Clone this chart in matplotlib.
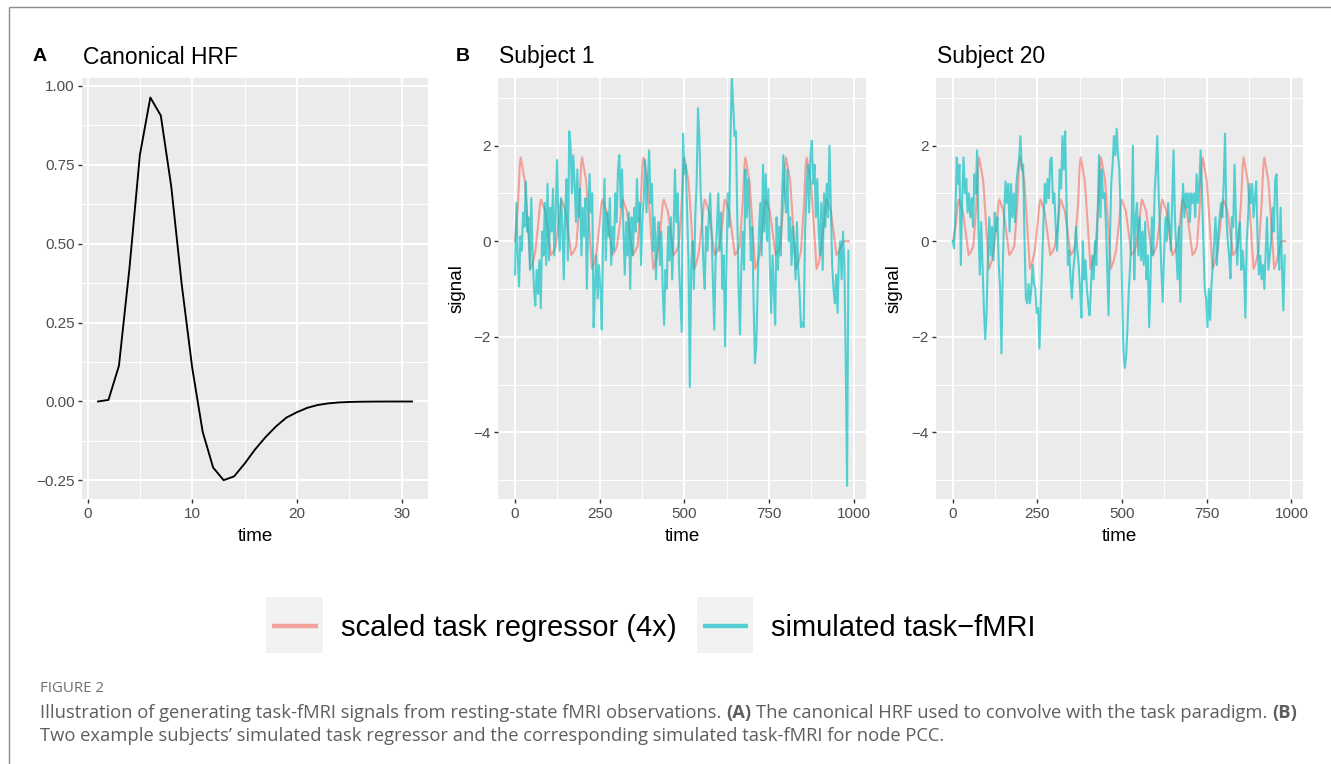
import numpy as np
import matplotlib
matplotlib.use("Agg")
import matplotlib.pyplot as plt
from matplotlib.patches import Rectangle
from matplotlib.ticker import FixedLocator, FuncFormatter
from matplotlib import font_manager as fm

# ------------------------------------------------------------------ data
hrf_time = list(range(1, 32))
hrf_value = [0.0, 0.005, 0.113, 0.42, 0.78, 0.962, 0.905, 0.68, 0.37, 0.107,
             -0.096, -0.209, -0.249, -0.237, -0.197, -0.152, -0.113, -0.079, -0.051, -0.034,
             -0.020, -0.011, -0.006, -0.003, -0.0015, -0.0007, -0.0003, -0.0001, 0.0, 0.0, 0.0]

fmri_step = 4  # simulated task-fMRI read every 4 time units, starting at time 0
s1_fmri = [
    -0.7, 0.8, -0.3, -0.95, 0.1, -0.2, 0.6, 0.3, 1.25, 0.2,
    0.5, -0.6, 0.9, -0.3, -1.0, -1.35, -0.6, -1.1, -0.4, -1.4,
    0.2, -0.3, 0.8, -0.5, 1.2, -0.4, 0.7, 0.2, 1.1, -0.3,
    0.6, 1.7, 0.4, -0.2, 0.9, 0.3, -0.8, 0.6, 1.3, -0.4,
    2.3, 2.0, 1.0, 1.8, 1.2, 0.4, 1.5, 0.5, 1.1, -0.3,
    0.7, 0.1, 0.9, -1.0, 0.3, 1.4, 0.6, 1.0, -1.8, -1.0,
    -0.3, -1.2, -0.5, -1.0, -1.85, 0.2, 1.3, -0.4, 0.6, 0.1,
    0.9, -0.5, 0.3, -0.2, 1.0, 0.4, 1.5, 1.8, 0.7, 1.5,
    0.2, -0.7, 0.4, -0.3, 0.6, -1.0, 0.5, -0.3, 0.7, 0.2,
    1.3, 0.4, 0.8, -0.5, 0.5, 0.9, 1.7, 0.6, 1.3, 1.9,
    0.8, 1.2, -0.2, 0.5, -0.8, 0.1, 0.4, -0.5, 0.2, -1.0,
    -1.75, -0.6, -1.0, 0.3, -0.4, 0.5, -0.8, 0.2, 1.5, 0.4,
    1.0, -0.5, -1.2, -1.9, 2.25, 1.4, 1.6, 0.6, -0.4, -3.05,
    -0.5, 0.0, -1.0, 0.5, 1.2, 2.78, 2.2, 1.0, 0.5, -0.5,
    -1.0, 0.3, -0.2, 0.5, 1.0, 0.2, -0.8, -1.85, -0.4, 0.3,
    1.0, -0.2, 0.6, -1.0, -0.3, -2.2, -0.6, 1.0, 0.3, 2.2,
    3.45, 2.8, 2.2, 2.3, 0.5, -1.0, -1.95, -0.5, 0.2, -0.6,
    1.5, 0.5, 1.3, 0.6, -0.4, 0.3, -1.2, -2.55, -2.2, -1.0,
    0.2, 0.8, -0.3, 1.6, 0.2, 1.4, 0.0, 1.1, -0.5, -1.5,
    -0.3, -1.0, -1.75, 0.5, -0.6, 0.3, -0.3, 0.9, 1.8, 1.0,
    0.6, 1.5, 0.0, 0.5, -0.5, 0.3, -0.1, -0.8, 0.4, -0.6,
    -1.1, -1.8, -1.7, -1.8, 0.2, 1.0, 1.6, 0.6, 1.8, 2.1,
    1.2, 1.6, 0.5, 1.3, 0.3, -0.3, 0.8, -0.6, 1.0, 0.3,
    1.2, 0.5, 2.0, 0.8, -0.5, -1.0, -1.3, -0.7, -1.5, -0.3,
    0.0, -0.8, 0.2, -0.5, -2.5, -5.12, -0.2]
s20_fmri = [
    0.0, -0.15, 0.6, 1.75, 1.2, 1.6, -0.5, 0.9, 1.75, 1.0,
    1.3, 0.6, 1.0, 0.5, 0.9, 0.3, 1.4, 1.0, 1.9, 0.3,
    -0.7, 0.4, -0.5, -1.4, -2.05, -1.5, -0.3, 0.5, -0.3, 0.3,
    -0.4, 0.6, 0.2, 0.5, -0.5, -1.0, -2.35, -0.5, 0.6, 1.25,
    0.8, 1.2, 0.2, 1.2, 0.5, 1.0, 0.4, 1.2, 1.5, 1.7,
    2.2, 1.5, 1.6, 0.0, -1.2, -1.3, -0.9, -1.3, -1.0, -0.5,
    -0.9, -1.0, -1.5, -1.4, -2.25, -1.3, -0.5, 0.4, 1.2, 0.8,
    1.3, 0.9, 1.7, 1.75, 0.8, 1.0, 0.3, -0.2, 0.5, 1.5,
    1.1, 2.2, 1.5, 2.3, 0.8, -0.5, -0.2, -0.8, -1.2, -0.6,
    -0.3, 0.3, -0.2, -0.5, -1.0, -1.6, 0.0, -0.8, -0.4, -1.0,
    -1.3, -1.55, -1.0, -0.3, -0.8, 0.0, -0.5, 0.6, 1.8, 0.5,
    1.5, 0.9, 1.0, 0.4, -0.5, -1.55, 0.0, 1.2, 1.6, 2.2,
    1.8, 2.35, 1.8, 1.5, 0.5, -1.0, -2.3, -2.65, -2.4, -1.8,
    -1.0, -0.5, 0.3, 2.0, -0.8, 0.5, 0.8, -0.3, 0.5, -0.4,
    0.2, -0.5, 0.4, -0.8, -0.3, -1.8, -0.8, 0.5, -0.3, 1.0,
    1.5, 2.2, 1.0, 0.2, -0.6, -1.27, -0.3, 0.5, 0.0, 0.8,
    0.3, -0.2, 0.8, 1.9, 0.5, -0.2, -0.8, 0.3, -1.27, 0.5,
    1.2, 0.5, 1.0, 0.7, 1.0, 0.4, 1.0, 0.8, 1.0, 0.5,
    1.4, 0.8, 1.2, 1.9, 1.0, 0.0, -1.0, -1.2, -1.8, -1.0,
    -1.65, -0.9, -0.5, 0.0, 0.5, -0.5, 0.2, 0.5, 0.8, 0.5,
    1.2, 2.25, 0.5, 0.0, -0.3, -0.78, 0.5, 0.3, 1.6, 0.5,
    -0.5, 0.2, 0.4, -0.6, -0.2, -0.6, -1.6, 0.0, 0.5, 1.2,
    0.8, 1.2, 0.5, 0.9, 1.25, 0.0, -0.7, -0.3, -0.8, -0.5,
    -1.0, -0.2, 0.5, -0.6, -0.3, 0.0, 0.7, 0.2, 1.3, 1.4,
    0.0, -0.6, 0.7, -0.5, -1.45, -0.3]

# scaled task regressor (4x): points
s1_task_time = [
    0, 9, 14, 17, 29, 36, 46, 53,
    60, 69, 74, 77, 89, 96, 106, 113,
    120, 129, 134, 137, 149, 156, 166, 173,
    181, 190, 195, 198, 210, 217, 227, 234,
    241, 250, 255, 258, 270, 277, 287, 294,
    301, 310, 315, 318, 330, 337, 347, 354,
    362, 371, 376, 379, 391, 398, 408, 415,
    422, 431, 436, 439, 451, 458, 468, 475,
    483, 492, 497, 500, 512, 519, 529, 536,
    543, 552, 557, 560, 572, 579, 589, 596,
    603, 612, 617, 620, 632, 639, 649, 656,
    663, 672, 677, 680, 692, 699, 709, 716,
    723, 732, 737, 740, 752, 759, 769, 776,
    783, 792, 797, 800, 812, 819, 829, 836,
    844, 853, 858, 861, 873, 880, 890, 897,
    903, 912, 917, 920, 932, 939, 949, 956,
    968, 985]
s1_task_value = [
    0.0, 0.79, 1.58, 1.75, 1.26, 0.53, -0.58, -0.44,
    -0.21, 0.39, 0.78, 0.87, 0.63, 0.26, -0.29, -0.22,
    -0.10, 0.39, 0.78, 0.87, 0.63, 0.26, -0.29, -0.22,
    -0.10, 0.79, 1.58, 1.75, 1.26, 0.53, -0.58, -0.44,
    -0.21, 0.39, 0.78, 0.87, 0.63, 0.26, -0.29, -0.22,
    -0.10, 0.39, 0.78, 0.87, 0.63, 0.26, -0.29, -0.22,
    -0.10, 0.79, 1.58, 1.75, 1.26, 0.53, -0.58, -0.44,
    -0.21, 0.39, 0.78, 0.87, 0.63, 0.26, -0.29, -0.22,
    -0.10, 0.79, 1.58, 1.75, 1.26, 0.53, -0.58, -0.44,
    -0.21, 0.39, 0.78, 0.87, 0.63, 0.26, -0.29, -0.22,
    -0.10, 0.39, 0.78, 0.87, 0.63, 0.26, -0.29, -0.22,
    -0.10, 0.79, 1.58, 1.75, 1.26, 0.53, -0.58, -0.44,
    -0.21, 0.39, 0.78, 0.87, 0.63, 0.26, -0.29, -0.22,
    -0.10, 0.79, 1.58, 1.75, 1.26, 0.53, -0.58, -0.44,
    -0.21, 0.79, 1.58, 1.75, 1.26, 0.53, -0.58, -0.44,
    -0.21, 0.39, 0.78, 0.87, 0.63, 0.26, -0.29, -0.22,
    0.0, 0.0]
s20_task_time = [
    1, 10, 15, 18, 30, 37, 47, 54,
    61, 70, 75, 78, 90, 97, 107, 114,
    121, 130, 135, 138, 150, 157, 167, 174,
    182, 191, 196, 199, 211, 218, 228, 235,
    242, 251, 256, 259, 271, 278, 288, 295,
    302, 311, 316, 319, 331, 338, 348, 355,
    361, 370, 375, 378, 390, 397, 407, 414,
    421, 430, 435, 438, 450, 457, 467, 474,
    482, 491, 496, 499, 511, 518, 528, 535,
    542, 551, 556, 559, 571, 578, 588, 595,
    602, 611, 616, 619, 631, 638, 648, 655,
    662, 671, 676, 679, 691, 698, 708, 715,
    721, 730, 735, 738, 750, 757, 767, 774,
    782, 791, 796, 799, 811, 818, 828, 835,
    842, 851, 856, 859, 871, 878, 888, 895,
    903, 912, 917, 920, 932, 939, 949, 956,
    970, 982]
s20_task_value = [
    0.0, 0.39, 0.78, 0.87, 0.63, 0.26, -0.29, -0.22,
    -0.10, 0.79, 1.58, 1.75, 1.26, 0.53, -0.58, -0.44,
    -0.21, 0.39, 0.78, 0.87, 0.63, 0.26, -0.29, -0.22,
    -0.10, 0.79, 1.58, 1.75, 1.26, 0.53, -0.58, -0.44,
    -0.21, 0.39, 0.78, 0.87, 0.63, 0.26, -0.29, -0.22,
    -0.10, 0.39, 0.78, 0.87, 0.63, 0.26, -0.29, -0.22,
    -0.10, 0.79, 1.58, 1.75, 1.26, 0.53, -0.58, -0.44,
    -0.21, 0.79, 1.58, 1.75, 1.26, 0.53, -0.58, -0.44,
    -0.21, 0.39, 0.78, 0.87, 0.63, 0.26, -0.29, -0.22,
    -0.10, 0.39, 0.78, 0.87, 0.63, 0.26, -0.29, -0.22,
    -0.10, 0.39, 0.78, 0.87, 0.63, 0.26, -0.29, -0.22,
    -0.10, 0.39, 0.78, 0.87, 0.63, 0.26, -0.29, -0.22,
    -0.10, 0.79, 1.58, 1.75, 1.26, 0.53, -0.58, -0.44,
    -0.21, 0.39, 0.78, 0.87, 0.63, 0.26, -0.29, -0.22,
    -0.10, 0.79, 1.58, 1.75, 1.26, 0.53, -0.58, -0.44,
    -0.21, 0.79, 1.58, 1.75, 1.26, 0.53, -0.58, -0.44,
    0.0, 0.0]

panel_titles = ["Canonical HRF", "Subject 1", "Subject 20"]
panel_tags = ["A", "B"]
legend_labels = ["scaled task regressor (4x)", "simulated task\u2212fMRI"]
hrf_xticks = [0, 10, 20, 30]
hrf_yticks = [-0.25, 0.0, 0.25, 0.50, 0.75, 1.00]
sig_xticks = [0, 250, 500, 750, 1000]
sig_yticks = [-4, -2, 0, 2]
caption_head = "FIGURE 2"
caption_line1 = [("Illustration of generating task-fMRI signals from resting-state fMRI observations.", "normal"),
                 ("(A)", "bold"),
                 ("The canonical HRF used to convolve with the task paradigm.", "normal"),
                 ("(B)", "bold")]
caption_line2 = [("Two example subjects\u2019 simulated task regressor and the corresponding simulated task-fMRI for node PCC.", "normal")]

# ------------------------------------------------------------------ style
plt.rcParams["font.family"] = ["Liberation Sans", "DejaVu Sans"]
W, H = 1331, 764
fig = plt.figure(figsize=(W / 100, H / 100), dpi=100)
fig.patch.set_facecolor("white")

RED = "#F8766D"
CYAN = "#00BFC4"
ALPHA = 0.65
PANEL_BG = "#EBEBEB"


def px_rect(l, t, r, b):
    return [l / W, 1 - b / H, (r - l) / W, (b - t) / H]


def minus(s):
    return s.replace("-", "\u2212")


def style_axes(ax, xmaj, xmin, ymaj, ymin, yfmt):
    ax.set_facecolor(PANEL_BG)
    for sp in ax.spines.values():
        sp.set_visible(False)
    ax.xaxis.set_major_locator(FixedLocator(xmaj))
    ax.xaxis.set_minor_locator(FixedLocator(xmin))
    ax.yaxis.set_major_locator(FixedLocator(ymaj))
    ax.yaxis.set_minor_locator(FixedLocator(ymin))
    ax.xaxis.set_major_formatter(FuncFormatter(lambda v, p: minus("%d" % round(v))))
    ax.yaxis.set_major_formatter(FuncFormatter(yfmt))
    ax.grid(which="major", color="white", lw=1.4, zorder=0)
    ax.grid(which="minor", color="white", lw=0.7, zorder=0)
    ax.set_axisbelow(True)
    ax.tick_params(which="major", length=3.2, width=1.0, color="#333333",
                   labelcolor="#4D4D4D", labelsize=11, pad=2.2)
    ax.tick_params(which="minor", length=0)


# overlay for free text / legend / frame
ov = fig.add_axes([0, 0, 1, 1], zorder=-1)
ov.set_xlim(0, W)
ov.set_ylim(H, 0)
ov.axis("off")
ov.patch.set_alpha(0)

# frame lines
ov.plot([9, 9], [7, H], color="#8C8C8C", lw=1.0, solid_capstyle="butt")
ov.plot([9, W], [7, 7], color="#8C8C8C", lw=1.0, solid_capstyle="butt")

# ---- panel A
axA = fig.add_axes(px_rect(82.3, 77.7, 427.7, 499.3))
style_axes(axA, hrf_xticks, [5, 15, 25], hrf_yticks,
           [-0.125, 0.125, 0.375, 0.625, 0.875],
           lambda v, p: minus("%.2f" % v))
axA.plot(hrf_time, hrf_value, color="black", lw=1.35, zorder=3)
axA.set_xlim(-0.5, 32.5)
axA.set_ylim(-0.3095, 1.0247)

# ---- panels B
sig_lims_x = (-49.3, 1035.0)
sig_lims_y = (-5.40, 3.42)
axes_sig = []
for (l, r), fmri, tt, tv in [((498.3, 865.7), s1_fmri, s1_task_time, s1_task_value),
                             ((936.0, 1303.3), s20_fmri, s20_task_time, s20_task_value)]:
    ax = fig.add_axes(px_rect(l, 77.7, r, 499.3))
    style_axes(ax, sig_xticks, [125, 375, 625, 875], sig_yticks, [-5, -3, -1, 1, 3],
               lambda v, p: minus("%d" % round(v)))
    t = np.arange(len(fmri)) * fmri_step
    ax.plot(tt, tv, color=RED, alpha=ALPHA, lw=1.5, zorder=3)
    ax.plot(t, fmri, color=CYAN, alpha=ALPHA, lw=1.5, zorder=4)
    ax.set_xlim(*sig_lims_x)
    ax.set_ylim(*sig_lims_y)
    axes_sig.append(ax)

# ---- titles, tags, axis titles
ov.text(33, 61, panel_tags[0], fontsize=14, fontweight="bold", ha="left", va="baseline")
ov.text(456, 61, panel_tags[1], fontsize=14, fontweight="bold", ha="left", va="baseline")
ov.text(83.3, 63.5, panel_titles[0], fontsize=16.5, ha="left", va="baseline")
ov.text(499.3, 63.5, panel_titles[1], fontsize=16.5, ha="left", va="baseline")
ov.text(937.3, 63.5, panel_titles[2], fontsize=16.5, ha="left", va="baseline")
for cx in (255.0, 682.0, 1119.6):
    ov.text(cx, 536.5, "time", fontsize=13.5, ha="center", va="center")
for cx in (457.0, 894.5):
    ov.text(cx, 288.5, "signal", fontsize=13.5, ha="center", va="center", rotation=90)

# ---- legend
key_boxes = [(266, 323), (697, 753)]
for (kl, kr), col, lab in zip(key_boxes, [RED, CYAN], legend_labels):
    ov.add_patch(Rectangle((kl, 597), kr - kl, 56, facecolor="#F2F2F2", edgecolor="none"))
    ov.plot([kl + 6, kr - 5], [626, 626], color=col, alpha=ALPHA, lw=3.2, solid_capstyle="butt")
    ov.text(kr + 18, 636, lab, fontsize=21, ha="left", va="baseline", color="black")

# ---- caption
names = {f.name for f in fm.fontManager.ttflist}
cap_family = "Liberation Sans Narrow" if "Liberation Sans Narrow" in names else "Open Sans"
renderer = fig.canvas.get_renderer()


def text_w(s, size, weight):
    t = ov.text(0, 0, s, fontsize=size, fontweight=weight, family=cap_family)
    w = t.get_window_extent(renderer=renderer).width
    t.remove()
    return w


def line_width(parts, size):
    sp = text_w("a a", size, "normal") - text_w("aa", size, "normal")
    return sum(text_w(s, size, wt) for s, wt in parts) + sp * (len(parts) - 1)


def rich_line(x, y, parts, size, color):
    sp = text_w("a a", size, "normal") - text_w("aa", size, "normal")
    cur = x
    for s, wt in parts:
        ov.text(cur, y, s, fontsize=size, fontweight=wt, family=cap_family,
                color=color, ha="left", va="baseline")
        cur += text_w(s, size, wt) + sp


base = 12.0
size = base * 1250.0 / line_width(caption_line1, base)
ov.text(40, 692.5, caption_head, fontsize=size * 0.82, family=cap_family,
        color="#6E6E6E", ha="left", va="baseline")
rich_line(40, 718, caption_line1, size, "#5E5E5E")
rich_line(40, 741, caption_line2, size, "#5E5E5E")

fig.savefig("out.png", dpi=100, facecolor="white")
